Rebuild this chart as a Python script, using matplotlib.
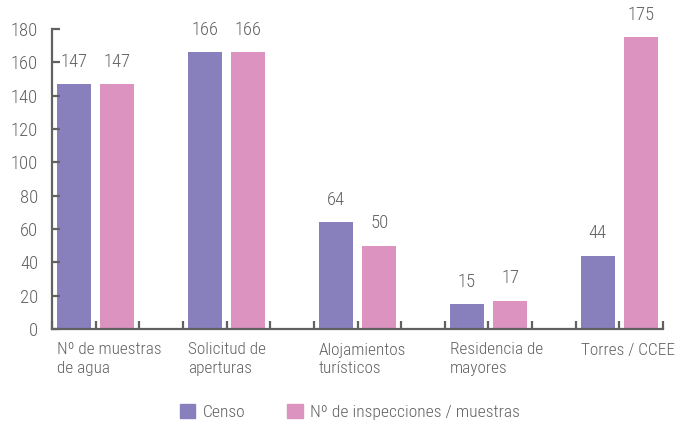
import matplotlib.pyplot as plt
from matplotlib.patches import Patch
import matplotlib.transforms as mtransforms
from matplotlib import font_manager

# Daten
categories = ["Nº de muestras\nde agua", "Solicitud de\naperturas", "Alojamientos\nturísticos",
              "Residencia de\nmayores", "Torres / CCEE"]
censo = [147, 166, 64, 15, 44]
inspecciones = [147, 166, 50, 17, 175]
series_names = ["Censo", "Nº de inspecciones / muestras"]

c_censo = "#8780BC"
c_insp = "#DD93BF"
grey = "#616161"

installed = {f.name for f in font_manager.fontManager.ttflist}
fams = [f for f in ["Roboto Condensed", "Liberation Sans Narrow", "Lato"] if f in installed]
plt.rcParams['font.family'] = fams + ['DejaVu Sans']
plt.rcParams['font.weight'] = 300
fs = 12.6

fig = plt.figure(figsize=(6.75, 4.21), dpi=100)
ax = fig.add_axes([52 / 675, 1 - 329 / 421, (663 - 52) / 675, 300 / 421])

bar_w = 0.78
x_censo = [3 * i + 0.5 for i in range(len(categories))]
x_insp = [3 * i + 1.5 for i in range(len(categories))]

b1 = ax.bar(x_censo, censo, width=bar_w, color=c_censo)
b2 = ax.bar(x_insp, inspecciones, width=bar_w, color=c_insp)

for bars, vals in [(b1, censo), (b2, inspecciones)]:
    for rect, v in zip(bars, vals):
        ax.text(rect.get_x() + rect.get_width() / 2, v + 8, str(v),
                ha="center", va="bottom", fontsize=fs + 0.8, color=grey)

ax.set_xlim(0, 3 * len(categories) - 1)
ax.set_ylim(0, 180)
ax.set_yticks(range(0, 181, 20))
ax.set_xticks(range(0, 3 * len(categories)))
ax.set_xticklabels([])

for s in ["top", "right"]:
    ax.spines[s].set_visible(False)
for s in ["left", "bottom"]:
    ax.spines[s].set_color(grey)
    ax.spines[s].set_linewidth(1.6)

ax.tick_params(axis="y", direction="in", length=6, width=1.6, color=grey,
               labelsize=fs + 0.8, labelcolor=grey, pad=10)
ax.tick_params(axis="x", direction="in", length=6, width=1.6, color=grey)

# Kategorien unter der Achse
trans = mtransforms.blended_transform_factory(ax.transData, ax.transAxes)
for i, cat in enumerate(categories):
    ax.text(3 * i + 0.5 - bar_w / 2, -0.045, cat, transform=trans,
            ha="left", va="top", fontsize=fs - 0.2, color=grey, linespacing=1.3)

# Legende
handles = [Patch(color=c_censo), Patch(color=c_insp)]
fig.legend(handles, series_names, loc="center", bbox_to_anchor=(0.518, 0.022),
           ncol=2, frameon=False, fontsize=fs, labelcolor=grey,
           handlelength=0.9, handleheight=0.9, handletextpad=0.4, columnspacing=2.4)

fig.savefig("out.png", dpi=100)
